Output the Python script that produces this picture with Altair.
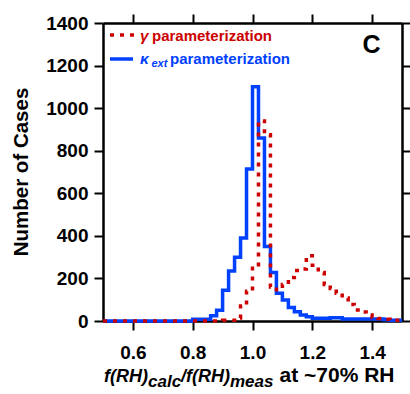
import altair as alt
import pandas as pd

# ---------------- data ----------------
BIN_START = 0.50
BIN_WIDTH = 0.02

# counts per bin, bins start at 0.50, 0.52, ..., 1.48
gamma_counts = [0, 0, 0, 0, 0, 0, 0, 0, 0, 0,
                0, 0, 0, 0, 0, 0, 0, 0, 0, 0,
                3, 3, 14, 70, 140, 248, 940, 875, 160, 147,
                172, 204, 237, 244, 307, 262, 228, 172, 153, 130,
                108, 78, 52, 42, 28, 17, 12, 8, 3, 3]
kappa_counts = [0, 0, 0, 0, 0, 0, 0, 0, 0, 0,
                0, 0, 0, 0, 0, 8, 8, 8, 25, 50,
                145, 235, 300, 390, 714, 1100, 860, 350, 228, 130,
                99, 64, 44, 28, 20, 13, 13, 13, 15, 15,
                9, 9, 9, 9, 9, 9, 9, 6, 4, 4]

x_ticks = [0.6, 0.8, 1.0, 1.2, 1.4]
y_ticks = [0, 200, 400, 600, 800, 1000, 1200, 1400]

RED = "#cc0000"
BLUE = "#0040ff"
FONT = "Liberation Sans"

edges = [round(BIN_START + BIN_WIDTH * i, 2) for i in range(len(gamma_counts) + 1)]
rows = []
for name, counts in (("gamma", gamma_counts), ("kappa", kappa_counts)):
    vals = counts + [counts[-1]]
    for e, v in zip(edges, vals):
        rows.append({"x": e, "count": v, "series": name})
df = pd.DataFrame(rows)

xs = alt.Scale(domain=[0.5, 1.5], nice=False, zero=False)
ys = alt.Scale(domain=[0, 1400], nice=False)

label_kw = dict(labelFont=FONT, labelFontSize=19, labelFontWeight="bold", labelColor="black")

# frame layer: top / right mirrored ticks
frame = alt.Chart(df).mark_point(opacity=0).encode(
    x=alt.X("x:Q", scale=xs, axis=alt.Axis(orient="top", values=x_ticks, labels=False, title=None)),
    y=alt.Y("count:Q", scale=ys, axis=alt.Axis(orient="right", values=y_ticks, labels=False, title=None)),
)

blue = alt.Chart(df).transform_filter(alt.datum.series == "kappa").mark_line(
    interpolate="step-after", color=BLUE, strokeWidth=3.5, strokeJoin="miter"
).encode(
    x=alt.X("x:Q", scale=xs, axis=alt.Axis(orient="bottom", values=x_ticks, format=".1f", title=None,
                                          labelPadding=13, **label_kw)),
    y=alt.Y("count:Q", scale=ys, axis=alt.Axis(orient="left", values=y_ticks, format="d", title=None,
                                              labelPadding=6, **label_kw)),
)

red = alt.Chart(df).transform_filter(alt.datum.series == "gamma").mark_line(
    interpolate="step-after", color=RED, strokeWidth=3.5, strokeDash=[4, 6], strokeCap="butt"
).encode(
    x=alt.X("x:Q", scale=xs, axis=None),
    y=alt.Y("count:Q", scale=ys, axis=None),
)


def txt(s, x, y, size, color="black", style="normal", weight="bold", align="left", angle=0,
        baseline="alphabetic"):
    kw = dict(text=s, fontSize=size, font=FONT, fontWeight=weight, fontStyle=style, color=color,
              align=align, baseline=baseline)
    if angle:
        kw["angle"] = angle
    return alt.Chart(pd.DataFrame({"k": [0]})).mark_text(**kw).encode(
        x=alt.value(x), y=alt.value(y))


def rule(x1, x2, y, color, dash=None):
    kw = dict(color=color, strokeWidth=3.5, strokeCap="butt")
    if dash:
        kw["strokeDash"] = dash
    return alt.Chart(pd.DataFrame({"k": [0]})).mark_rule(**kw).encode(
        x=alt.value(x1), x2=alt.value(x2), y=alt.value(y))


layers = [
    frame, blue, red,
    # legend
    rule(7, 31, 12, RED, [4, 6]),
    rule(7, 30, 36, BLUE),
    txt("γ", 37, 17.7, 15.5, RED, "italic"),
    txt("parameterization", 49, 17.7, 15, RED),
    txt("κ", 37, 40.5, 15.5, BLUE, "italic"),
    txt("ext", 48.5, 43.5, 11, BLUE, "italic"),
    txt("parameterization", 67, 40.5, 15, BLUE),
    # panel letter
    txt("C", 268.5, 30, 25, align="center"),
    # y title
    txt("Number of Cases", -75, 149, 20.5, align="center", angle=270),
    # x title pieces
    txt("f(RH)", 1, 359, 18, style="italic"),
    txt("calc", 45, 364, 17, style="italic"),
    txt("/f(RH)", 78, 359, 18, style="italic"),
    txt("meas", 127, 364, 17, style="italic"),
    txt("at ~70% RH", 176.5, 359, 21),
]

chart = alt.layer(*layers).resolve_axis(x="independent", y="independent").properties(
    width=299, height=298,
    padding={"left": 103, "top": 23, "right": 8, "bottom": 73},
    autosize=alt.AutoSizeParams(type="none"),
).configure_axis(
    grid=False,
    domainColor="black", domainWidth=2.5,
    tickColor="black", tickWidth=2, tickSize=9,
    **label_kw,
).configure_view(stroke=None)

chart.save("out.html", embed_options={"renderer": "svg", "actions": False})
